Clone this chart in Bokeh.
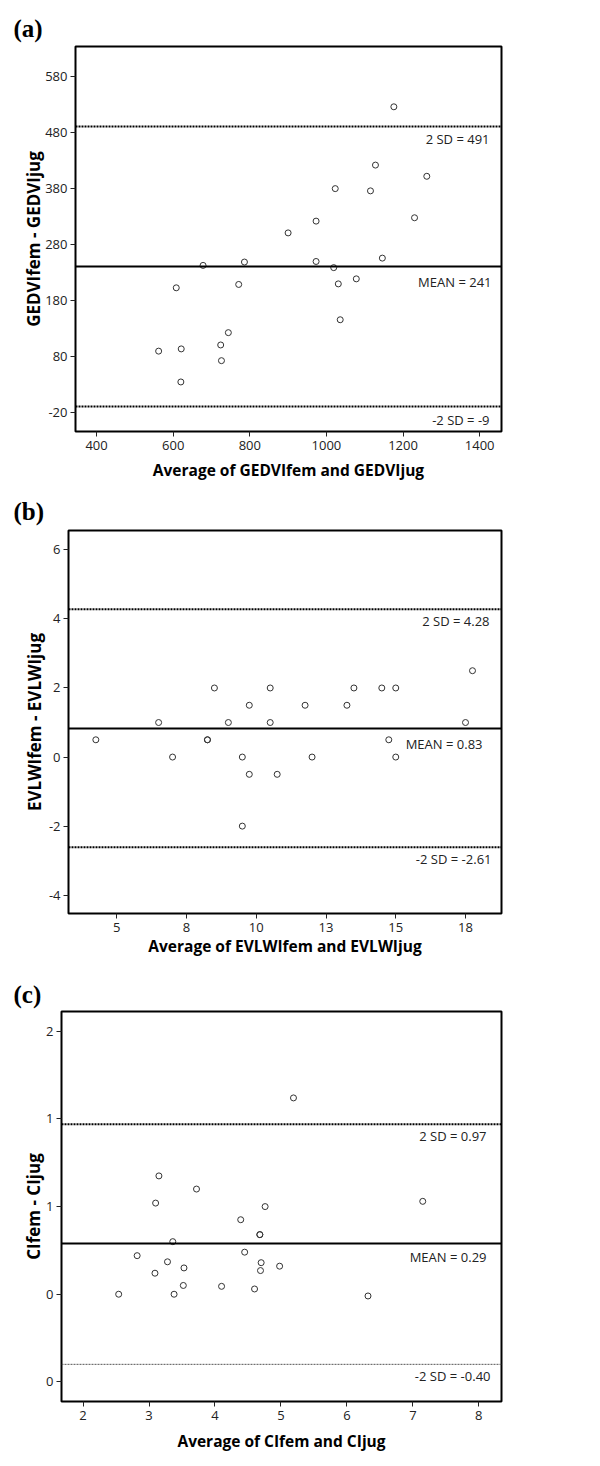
from bokeh.plotting import figure
from bokeh.layouts import column
from bokeh.models import FixedTicker, Span, Range1d
from bokeh.core.properties import value
from bokeh.embed import file_html
from bokeh.resources import INLINE

# ---------------- data ----------------
# (a) GEDVI
a_avg = [1176, 1128, 1262, 1023, 1115, 973, 1230, 900, 678, 786, 973, 1019,
         1146, 608, 771, 1031, 1078, 1036, 744, 724, 621, 562, 726, 620]
a_diff = [526, 422, 402, 380, 376, 322, 328, 301, 243, 249, 250, 239,
          256, 203, 209, 210, 219, 146, 123, 101, 94, 90, 73, 35]
a_mean, a_upper, a_lower = 241, 491, -9
a_stat_labels = ["2 SD = 491", "MEAN = 241", "-2 SD = -9"]
a_xticks = [400, 600, 800, 1000, 1200, 1400]
a_xlabels = ["400", "600", "800", "1000", "1200", "1400"]
a_yticks = [-20, 80, 180, 280, 380, 480, 580]
a_ylabels = ["-20", "80", "180", "280", "380", "480", "580"]

# (b) EVLWI
b_avg = [8.5, 10.5, 13.5, 14.5, 15.0, 17.75, 9.75, 11.75, 13.25, 6.5, 9.0, 10.5,
         17.5, 4.25, 8.25, 8.25, 14.75, 7.0, 9.5, 12.0, 15.0, 9.75, 10.75, 9.5]
b_diff = [2, 2, 2, 2, 2, 2.5, 1.5, 1.5, 1.5, 1, 1, 1,
          1, 0.5, 0.5, 0.5, 0.5, 0, 0, 0, 0, -0.5, -0.5, -2]
b_mean, b_upper, b_lower = 0.83, 4.28, -2.61
b_stat_labels = ["2 SD = 4.28", "MEAN = 0.83", "-2 SD = -2.61"]
b_xticks = [5, 7.5, 10, 12.5, 15, 17.5]
b_xlabels = ["5", "8", "10", "13", "15", "18"]
b_yticks = [-4, -2, 0, 2, 4, 6]
b_ylabels = ["-4", "-2", "0", "2", "4", "6"]

# (c) CI
c_avg = [5.19, 3.15, 3.72, 3.10, 7.15, 4.76, 4.39, 4.68, 4.68, 3.36, 2.82, 4.45,
         3.28, 4.70, 3.53, 4.98, 3.09, 4.69, 3.52, 4.10, 4.60, 2.54, 3.38, 6.32]
c_diff = [1.12, 0.675, 0.60, 0.52, 0.53, 0.50, 0.425, 0.34, 0.34, 0.30, 0.22, 0.24,
          0.185, 0.18, 0.15, 0.16, 0.12, 0.135, 0.05, 0.045, 0.03, 0.0, 0.0, -0.01]
c_mean, c_upper, c_lower = 0.29, 0.97, -0.40
c_stat_labels = ["2 SD = 0.97", "MEAN = 0.29", "-2 SD = -0.40"]
c_xticks = [2, 3, 4, 5, 6, 7, 8]
c_xlabels = ["2", "3", "4", "5", "6", "7", "8"]
c_yticks = [-0.5, 0.0, 0.5, 1.0, 1.5]
c_ylabels = ["0", "0", "1", "1", "2"]

FONT = "Open Sans"
TXT = "#222222"


def panel(tag, avg, diff, mean, upper, lower, stat_labels,
          xticks, xlabels, yticks, ylabels, xtitle, ytitle, g):
    p = figure(width=592, height=g["h"],
               x_range=Range1d(*g["xr"]), y_range=Range1d(*g["yr"]),
               output_backend="svg", toolbar_location=None,
               min_border_left=g["bl"], min_border_right=91,
               min_border_top=g["bt"], min_border_bottom=g["bb"])
    p.background_fill_color = "white"
    p.border_fill_color = "white"
    p.outline_line_color = "black"
    p.outline_line_width = 2
    p.grid.visible = False

    # title "(a)" etc.
    p.title.text = tag
    p.title.text_font = "Liberation Serif"
    p.title.text_font_style = "bold"
    p.title.text_font_size = "25px"
    p.title.text_color = "black"
    p.title.align = "left"
    p.title.offset = -(g["bl"] - 13)
    p.title.standoff = g["ts"]

    for ax in (p.xaxis[0], p.yaxis[0]):
        ax.axis_line_color = None
        ax.major_tick_out = 5
        ax.major_tick_in = 0
        ax.minor_tick_out = 0
        ax.minor_tick_in = 0
        ax.major_tick_line_color = TXT
        ax.major_tick_line_width = 1
        ax.major_label_text_font = FONT
        ax.major_label_text_font_size = "13px"
        ax.major_label_text_color = TXT
        ax.axis_label_text_font = FONT
        ax.axis_label_text_font_style = "bold"
        ax.axis_label_text_color = "black"
    p.xaxis.axis_label_text_font_size = "15.5px"
    p.yaxis.axis_label_text_font_size = "17px"

    p.xaxis.ticker = FixedTicker(ticks=xticks)
    p.xaxis.major_label_overrides = {t: l for t, l in zip(xticks, xlabels)}
    p.yaxis.ticker = FixedTicker(ticks=yticks)
    p.yaxis.major_label_overrides = {t: l for t, l in zip(yticks, ylabels)}
    p.xaxis.axis_label = xtitle
    p.yaxis.axis_label = ytitle
    p.xaxis.major_label_standoff = 4
    p.yaxis.major_label_standoff = 3
    p.xaxis.axis_label_standoff = g["xs"]
    p.yaxis.axis_label_standoff = g["ys"]

    # reference lines
    p.add_layout(Span(location=upper, dimension="width", line_color="black",
                      line_width=2, line_dash="2 1"))
    p.add_layout(Span(location=mean, dimension="width", line_color="black",
                      line_width=2))
    p.add_layout(Span(location=lower, dimension="width",
                      line_color=g["lc"], line_width=g["lw"], line_dash="2 1"))

    # points
    p.scatter(avg, diff, marker="circle", size=6, fill_color=None,
              line_color="#333333", line_width=1)

    # line annotations
    xe = p.x_range.end
    p.text(x=[xe, xe, xe], y=[upper, mean, lower], text=stat_labels,
           x_offset=g["xo"], y_offset=g["yo"],
           text_align="right", text_baseline="middle",
           text_font=value(FONT), text_font_size=value("13px"),
           text_color=TXT)
    return p


pa = panel("(a)", a_avg, a_diff, a_mean, a_upper, a_lower, a_stat_labels,
           a_xticks, a_xlabels, a_yticks, a_ylabels,
           "Average of GEDVIfem and GEDVIjug", "GEDVIfem - GEDVIjug",
           dict(h=490, xr=(345, 1457), yr=(-53.4, 633.6), bl=75, bt=46, bb=59,
                ts=9, xs=6, ys=-3, lc="black", lw=2,
                xo=[-12, -10, -12], yo=[13, 15, 13]))

pb = panel("(b)", b_avg, b_diff, b_mean, b_upper, b_lower, b_stat_labels,
           b_xticks, b_xlabels, b_yticks, b_ylabels,
           "Average of EVLWIfem and EVLWIjug", "EVLWIfem - EVLWIjug",
           dict(h=480, xr=(3.27, 18.79), yr=(-4.53, 6.56), bl=68, bt=38, bb=57,
                ts=11, xs=0, ys=0, lc="black", lw=2,
                xo=[-12, -19, -10], yo=[12, 16, 12]))

pc = panel("(c)", c_avg, c_diff, c_mean, c_upper, c_lower, c_stat_labels,
           c_xticks, c_xlabels, c_yticks, c_ylabels,
           "Average of CIfem and CIjug", "CIfem - CIjug",
           dict(h=488, xr=(1.673, 8.344), yr=(-0.612, 1.613), bl=61, bt=41, bb=57,
                ts=8, xs=7, ys=-2, lc="#555555", lw=1,
                xo=[-15, -15, -11], yo=[12, 14, 12]))

layout = column(column(pa), column(pb), column(pc), spacing=0)
open("out.html", "w").write(file_html(layout, INLINE))
